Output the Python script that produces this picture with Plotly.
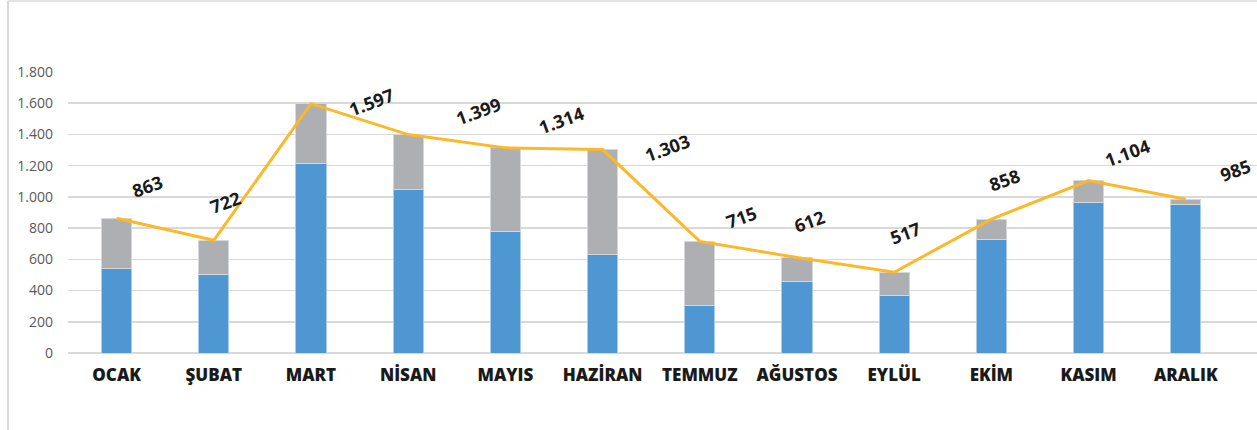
import plotly.graph_objects as go

months = ["OCAK", "ŞUBAT", "MART", "NİSAN", "MAYIS", "HAZİRAN",
          "TEMMUZ", "AĞUSTOS", "EYLÜL", "EKİM", "KASIM", "ARALIK"]
totals = [863, 722, 1597, 1399, 1314, 1303, 715, 612, 517, 858, 1104, 985]
blue_part = [540, 500, 1215, 1046, 781, 628, 303, 457, 367, 730, 967, 950]
gray_part = [t - b for t, b in zip(totals, blue_part)]
y_ticks = [0, 200, 400, 600, 800, 1000, 1200, 1400, 1600, 1800]

# label offsets in pixels (styling only)
label_dx = [31, 12, 60, 70, 56, 64, 42, 13, 11, 13, 38, 50]
label_dy = [32, 38, 2, 24, 28, 2, 24, 36, 39, 39, 28, 29]

W, H = 1257, 430
ML, MR, MT, MB = 68, 0, 72, 77

fig = go.Figure()
fig.add_trace(go.Bar(x=months, y=blue_part, marker=dict(color="#4F97D2",
                     line=dict(color="#A9CBEA", width=1)), hoverinfo="skip"))
fig.add_trace(go.Bar(x=months, y=gray_part, marker=dict(color="#AEAFB2",
                     line=dict(color="#D6D7D9", width=1)), hoverinfo="skip"))
fig.add_trace(go.Scatter(x=months, y=totals, mode="lines",
                         line=dict(color="#FBB829", width=3), hoverinfo="skip"))

for m, t, dx, dy in zip(months, totals, label_dx, label_dy):
    fig.add_annotation(x=m, y=t, text=f"{t:,}".replace(",", "."), showarrow=False,
                       xshift=dx, yshift=dy, textangle=-20,
                       font=dict(family="Open Sans", size=18, color="#1a1a1a", weight="bold"))

pw = W - ML - MR
ph = H - MT - MB
x_left = (8 - ML) / pw
y_top = (H - MB - 1) / ph
fig.add_shape(type="line", xref="paper", yref="paper",
              x0=x_left, x1=x_left, y0=-MB / ph, y1=y_top,
              line=dict(color="#D9D9D9", width=2))
fig.add_shape(type="line", xref="paper", yref="paper",
              x0=x_left, x1=1.0, y0=y_top, y1=y_top,
              line=dict(color="#E3E3E3", width=2))

fig.update_layout(
    width=W, height=H,
    margin=dict(l=ML, r=MR, t=MT, b=MB),
    barmode="stack", bargap=0.69,
    showlegend=False,
    plot_bgcolor="white", paper_bgcolor="white",
    separators=",.",
    xaxis=dict(showgrid=False, showline=False, ticks="",
               tickfont=dict(family="Open Sans", size=17, color="#1a1a1a", weight=800),
               ticklabelstandoff=10, fixedrange=True),
    yaxis=dict(range=[0, 1800], tickvals=y_ticks, tickformat=",d",
               showgrid=True, gridcolor="#D9D9D9", gridwidth=1.5,
               zeroline=True, zerolinecolor="#D9D9D9", zerolinewidth=1.5,
               showline=False, ticks="",
               tickfont=dict(family="Open Sans", size=14, color="#595959"),
               ticklabelstandoff=14, fixedrange=True),
)

fig.write_html("out.html", config={"displayModeBar": False, "staticPlot": True},
               post_script="document.body.style.margin='0';"
                           "document.body.style.overflow='hidden';"
                           "document.documentElement.style.overflow='hidden';")
